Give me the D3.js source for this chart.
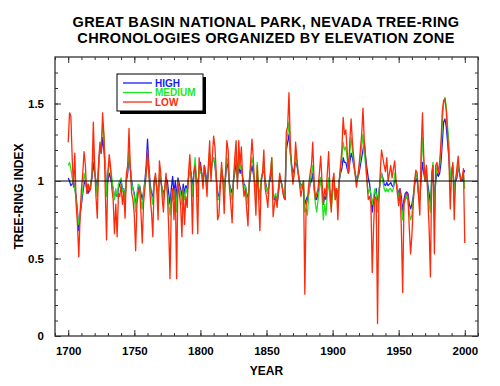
<!DOCTYPE html>
<html>
<head>
<meta charset="utf-8">
<script src="https://cdn.jsdelivr.net/npm/d3@7"></script>
<style>
  body { margin: 0; background: #fff; }
  text { font-family: "Liberation Sans", Arial, Helvetica, sans-serif; font-weight: bold; }
</style>
</head>
<body>
<div id="chart"></div>
<script>
// chronologies, one value per year from 1700 to 2000
var firstYear = 1700;

var lowZone = [
  1.25, 1.44, 1.42, 1.15, 0.96, 1.18, 0.85, 0.72, 0.51, 0.78,
  0.95, 1.05, 1.19, 1.10, 0.92, 0.98, 0.93, 0.95, 1.05, 1.38,
  1.10, 0.90, 0.76, 1.12, 1.25, 1.18, 1.44, 1.30, 0.95, 0.62,
  1.05, 1.17, 1.10, 0.95, 0.88, 0.66, 0.85, 0.64, 0.92, 0.90,
  0.98, 0.85, 0.93, 0.76, 1.05, 1.10, 1.34, 1.08, 0.92, 0.88,
  0.78, 0.55, 0.85, 0.92, 0.96, 0.80, 0.60, 0.86, 0.95, 1.05,
  1.20, 1.05, 0.90, 0.80, 0.64, 1.00, 1.05, 0.95, 0.75, 1.13,
  1.05, 0.90, 0.80, 0.95, 1.05, 0.92, 0.70, 0.37, 0.85, 0.95,
  0.75, 0.95, 0.37, 1.00, 0.92, 0.85, 0.64, 0.95, 0.72, 0.90,
  0.83, 1.05, 1.17, 1.02, 0.66, 1.05, 1.10, 0.95, 0.66, 1.15,
  1.08, 1.05, 0.95, 1.10, 1.02, 0.90, 1.10, 1.26, 1.00, 1.15,
  1.29, 1.22, 1.05, 0.75, 0.78, 0.95, 1.12, 1.00, 0.79, 1.05,
  1.26, 1.20, 0.95, 0.85, 0.73, 1.00, 1.15, 1.26, 0.95, 1.26,
  1.10, 1.22, 1.00, 0.90, 0.95, 0.82, 0.71, 1.00, 1.12, 1.27,
  1.15, 0.95, 0.78, 1.10, 0.90, 0.68, 1.00, 1.05, 1.20, 0.95,
  0.90, 0.83, 0.98, 1.05, 1.15, 0.77, 0.85, 0.90, 0.83, 0.95,
  1.05, 1.00, 0.95, 0.90, 0.88, 1.32, 1.35, 1.57, 1.25, 1.10,
  0.98, 1.05, 1.25, 1.15, 1.05, 0.98, 0.90, 0.95, 1.00, 0.27,
  0.85, 0.88, 0.98, 1.05, 1.10, 1.25, 1.00, 0.88, 0.92, 0.95,
  1.05, 1.16, 1.00, 0.85, 0.95, 0.90, 1.05, 1.19, 0.95, 0.80,
  1.00, 1.05, 0.88, 0.95, 0.75, 1.00, 1.10, 1.20, 1.41, 1.30,
  1.33, 1.20, 1.05, 1.25, 1.40, 1.25, 1.15, 1.05, 0.96, 1.02,
  1.10, 1.20, 1.30, 1.47, 1.25, 1.15, 1.00, 0.88, 0.90, 0.85,
  0.41, 0.70, 0.90, 0.88, 0.08, 0.85, 1.05, 1.20, 1.15, 1.10,
  1.06, 1.15, 1.00, 1.05, 1.10, 1.02, 1.08, 1.13, 1.00, 0.92,
  0.84, 0.95, 0.70, 0.28, 0.85, 0.90, 0.92, 0.90, 0.70, 0.53,
  0.65, 0.85, 1.00, 1.07, 1.05, 0.90, 0.78, 1.20, 1.44, 1.15,
  1.00, 1.10, 0.90, 0.70, 0.38, 1.05, 1.10, 0.53, 1.10, 1.12,
  1.05, 1.12, 1.25, 1.45, 1.52, 1.53, 1.45, 1.30, 1.15, 0.82,
  1.05, 1.12, 0.75, 1.00, 1.08, 1.16, 1.05, 1.00, 1.02, 1.08,
  0.60
];

var mediumZone = [
  1.10, 1.12, 1.08, 1.02, 0.98, 0.95, 0.88, 0.78, 0.72, 0.80,
  0.88, 0.95, 1.05, 1.00, 0.95, 0.98, 0.96, 0.97, 1.05, 1.22,
  1.08, 0.98, 0.90, 1.08, 1.20, 1.25, 1.35, 1.30, 1.10, 0.90,
  1.05, 1.12, 1.08, 1.02, 0.95, 0.88, 0.95, 0.90, 0.98, 1.00,
  1.02, 0.93, 0.95, 0.88, 1.02, 1.08, 1.20, 1.08, 0.98, 0.95,
  0.90, 0.80, 0.92, 0.98, 0.97, 0.88, 0.82, 0.93, 0.98, 1.05,
  1.15, 1.05, 0.95, 0.90, 0.85, 1.00, 1.02, 0.95, 0.88, 1.05,
  1.02, 0.95, 0.88, 0.95, 1.00, 0.93, 0.85, 0.78, 0.90, 0.95,
  0.88, 0.95, 0.80, 1.00, 0.95, 0.92, 0.85, 0.95, 0.88, 0.95,
  0.92, 1.02, 1.10, 1.02, 0.90, 1.05, 1.15, 1.00, 0.90, 1.10,
  1.05, 1.05, 0.98, 1.08, 1.02, 0.95, 1.08, 1.18, 1.05, 1.12,
  1.15, 1.12, 1.02, 0.88, 0.88, 0.98, 1.08, 1.02, 0.92, 1.05,
  1.15, 1.12, 0.98, 0.92, 0.88, 1.00, 1.10, 1.18, 1.00, 1.15,
  1.08, 1.10, 1.02, 0.95, 0.97, 0.90, 0.85, 1.00, 1.08, 1.15,
  1.10, 0.98, 0.90, 1.12, 0.95, 0.88, 1.02, 1.05, 1.12, 0.98,
  0.95, 0.92, 1.00, 1.05, 1.15, 0.88, 0.90, 0.92, 0.85, 0.95,
  1.02, 1.00, 0.96, 0.92, 0.90, 1.25, 1.30, 1.38, 1.20, 1.08,
  1.00, 1.05, 1.18, 1.12, 1.05, 1.00, 0.95, 0.98, 1.00, 0.80,
  0.82, 0.78, 0.92, 1.00, 1.05, 1.10, 0.95, 0.85, 0.80, 0.88,
  0.95, 1.02, 0.90, 0.75, 0.85, 0.78, 0.92, 1.02, 0.88, 0.82,
  0.92, 1.00, 0.88, 0.95, 0.85, 1.00, 1.08, 1.15, 1.25, 1.20,
  1.22, 1.15, 1.05, 1.18, 1.28, 1.20, 1.12, 1.05, 1.00, 1.02,
  1.08, 1.15, 1.22, 1.30, 1.18, 1.10, 1.00, 0.92, 0.95, 0.92,
  0.85, 0.90, 0.95, 0.92, 0.80, 0.92, 1.00, 1.05, 1.00, 0.95,
  0.93, 0.95, 0.93, 0.95, 0.95, 0.93, 0.95, 1.05, 1.00, 0.95,
  0.90, 0.92, 0.85, 0.75, 0.85, 0.88, 0.90, 0.88, 0.80, 0.75,
  0.78, 0.88, 0.98, 1.05, 1.02, 0.92, 0.88, 1.12, 1.28, 1.10,
  1.00, 1.08, 0.95, 0.85, 0.80, 1.05, 1.12, 0.75, 1.02, 1.10,
  1.05, 1.10, 1.20, 1.38, 1.50, 1.54, 1.48, 1.35, 1.25, 1.00,
  1.08, 1.10, 0.88, 1.02, 1.05, 1.12, 1.05, 1.00, 1.02, 1.05,
  0.95
];

var highZone = [
  1.02, 1.00, 0.97, 0.98, 1.00, 0.95, 0.90, 0.80, 0.68, 0.78,
  0.85, 0.92, 0.98, 1.00, 0.95, 0.92, 0.95, 0.98, 1.02, 1.12,
  1.05, 1.00, 0.95, 1.10, 1.22, 1.18, 1.28, 1.20, 1.10, 0.95,
  1.00, 1.05, 1.02, 0.98, 0.95, 0.90, 0.92, 0.90, 0.95, 0.98,
  1.00, 0.95, 0.95, 0.90, 1.00, 1.05, 1.15, 1.08, 1.00, 0.95,
  0.92, 0.85, 0.90, 0.95, 0.97, 0.92, 0.88, 0.93, 1.00, 1.10,
  1.27, 1.10, 0.98, 0.92, 0.90, 0.98, 1.02, 0.96, 0.90, 1.02,
  1.00, 0.95, 0.92, 0.95, 1.02, 1.00, 0.92, 0.85, 0.95, 1.03,
  0.92, 1.00, 0.88, 1.02, 0.98, 0.95, 0.90, 0.98, 0.92, 0.97,
  0.95, 1.02, 1.08, 1.05, 0.95, 1.05, 1.10, 1.02, 0.95, 1.08,
  1.12, 1.05, 1.00, 1.10, 1.05, 0.98, 1.05, 1.15, 1.08, 1.12,
  1.15, 1.10, 1.02, 0.92, 0.90, 0.98, 1.05, 1.02, 0.95, 1.02,
  1.12, 1.08, 0.98, 0.95, 0.92, 1.00, 1.05, 1.12, 1.02, 1.10,
  1.05, 1.08, 1.02, 0.98, 0.97, 0.92, 0.88, 0.98, 1.05, 1.10,
  1.05, 1.00, 0.92, 1.05, 0.95, 0.90, 1.00, 1.05, 1.08, 1.00,
  0.96, 0.92, 0.98, 1.02, 1.10, 0.92, 0.88, 0.90, 0.85, 0.92,
  1.00, 1.00, 0.96, 0.90, 0.88, 1.20, 1.25, 1.30, 1.18, 1.10,
  1.05, 1.08, 1.12, 1.10, 1.05, 1.00, 0.97, 0.98, 0.95, 0.85,
  0.88, 0.90, 0.92, 0.98, 1.00, 1.05, 0.95, 0.90, 0.88, 0.92,
  0.98, 1.02, 0.95, 0.85, 0.90, 0.88, 0.95, 1.00, 0.92, 0.88,
  0.95, 1.00, 0.92, 0.95, 0.90, 1.00, 1.05, 1.08, 1.15, 1.12,
  1.12, 1.08, 1.05, 1.12, 1.18, 1.15, 1.10, 1.05, 1.02, 1.02,
  1.05, 1.10, 1.15, 1.20, 1.25, 1.15, 1.08, 1.02, 0.98, 0.90,
  0.80, 0.88, 0.92, 0.95, 0.85, 0.92, 1.00, 1.05, 1.02, 0.98,
  0.97, 0.99, 0.97, 0.98, 0.99, 0.97, 0.96, 1.00, 1.00, 0.95,
  0.92, 0.95, 0.90, 0.80, 0.88, 0.92, 0.93, 0.92, 0.85, 0.82,
  0.85, 0.90, 0.97, 1.02, 1.00, 0.92, 0.88, 1.02, 1.12, 1.05,
  1.00, 1.05, 0.98, 0.92, 0.85, 1.00, 1.05, 0.88, 1.00, 1.05,
  1.03, 1.05, 1.12, 1.25, 1.38, 1.40, 1.35, 1.25, 1.15, 1.00,
  1.05, 1.08, 0.95, 1.00, 1.02, 1.10, 1.05, 1.02, 1.00, 1.05,
  1.07
];

var seriesNames = ["HIGH", "MEDIUM", "LOW"];
var seriesColors = ["#1a1aff", "#1ee61e", "#ff2a0a"];
var seriesValues = [highZone, mediumZone, lowZone];

var xDomain = [1690, 2010];
var yDomain = [0, 1.8];
var xMajorTicks = [1700, 1750, 1800, 1850, 1900, 1950, 2000];
var yMajorTicks = [0, 0.5, 1, 1.5];

var titleLines = ["GREAT BASIN NATIONAL PARK, NEVADA TREE-RING",
                  "CHRONOLOGIES ORGANIZED BY ELEVATION ZONE"];

// drawing area
var margin = { top: 57, right: 22, bottom: 50, left: 55 };
var outerWidth = 500, outerHeight = 386;
var width = outerWidth - margin.left - margin.right,
    height = outerHeight - margin.top - margin.bottom;

var svg = d3.select("#chart").append("svg")
    .attr("width", outerWidth)
    .attr("height", outerHeight);

var g = svg.append("g")
    .attr("transform", "translate(" + margin.left + "," + margin.top + ")");

// scales
var x = d3.scaleLinear().domain(xDomain).range([0, width]);
var y = d3.scaleLinear().domain(yDomain).range([height, 0]);

// title
svg.selectAll("text.title")
    .data(titleLines)
    .enter().append("text")
    .attr("class", "title")
    .attr("x", 266)
    .attr("y", function(d, i){ return 26.5 + i * 16.3; })
    .attr("text-anchor", "middle")
    .attr("font-size", "14.5px")
    .attr("letter-spacing", "0.35px")
    .text(function(d){ return d; });

// series lines
var line = d3.line()
    .x(function(d, i){ return x(firstYear + i); })
    .y(function(d){ return y(d); });

g.append("clipPath").attr("id", "plotClip")
    .append("rect").attr("width", width).attr("height", height);

var lines = g.append("g").attr("clip-path", "url(#plotClip)");

lines.selectAll("path.series")
    .data(seriesValues)
    .enter().append("path")
    .attr("class", "series")
    .attr("fill", "none")
    .attr("stroke", function(d, i){ return seriesColors[i]; })
    .attr("stroke-width", 1.3)
    .attr("stroke-linejoin", "round")
    .attr("d", line);

// reference line at index 1
g.append("line")
    .attr("x1", 0).attr("x2", width)
    .attr("y1", y(1)).attr("y2", y(1))
    .attr("stroke", "#000")
    .attr("stroke-width", 1.2);

// axes, ticks pointing inward on all four sides
function styleAxis(sel){
    sel.select(".domain").remove();
    sel.selectAll(".tick line").attr("stroke", "#333").attr("stroke-width", 1);
    sel.selectAll(".tick text").attr("fill", "#000").attr("font-size", "11.5px")
        .attr("font-family", "'Liberation Sans', Arial, sans-serif").attr("font-weight", "bold");
}

var xMinor = d3.range(xDomain[0], xDomain[1] + 1, 10);
var yMinor = d3.range(0, 18).map(function(d){ return d / 10; });

g.append("g").attr("transform", "translate(0," + height + ")")
    .call(d3.axisBottom(x).tickValues(xMinor).tickSize(-3).tickFormat(""))
    .call(styleAxis);
g.append("g").attr("transform", "translate(0," + height + ")")
    .call(d3.axisBottom(x).tickValues(xMajorTicks).tickSize(-6).tickPadding(11).tickFormat(d3.format("d")))
    .call(styleAxis);
g.append("g")
    .call(d3.axisTop(x).tickValues(xMinor).tickSize(-3).tickFormat(""))
    .call(styleAxis);
g.append("g")
    .call(d3.axisTop(x).tickValues(xMajorTicks).tickSize(-6).tickFormat(""))
    .call(styleAxis);

g.append("g")
    .call(d3.axisLeft(y).tickValues(yMinor).tickSize(-3).tickFormat(""))
    .call(styleAxis);
g.append("g")
    .call(d3.axisLeft(y).tickValues(yMajorTicks).tickSize(-6).tickPadding(11)
        .tickFormat(function(d){ return d === 0 ? "0" : d3.format("~g")(d); }))
    .call(styleAxis);
g.append("g").attr("transform", "translate(" + width + ",0)")
    .call(d3.axisRight(y).tickValues(yMinor).tickSize(-3).tickFormat(""))
    .call(styleAxis);
g.append("g").attr("transform", "translate(" + width + ",0)")
    .call(d3.axisRight(y).tickValues(yMajorTicks).tickSize(-6).tickFormat(""))
    .call(styleAxis);

// frame
g.append("rect")
    .attr("width", width).attr("height", height)
    .attr("fill", "none")
    .attr("stroke", "#333")
    .attr("stroke-width", 1.3);

// axis titles
svg.append("text")
    .attr("x", margin.left + x(1850))
    .attr("y", 375)
    .attr("text-anchor", "middle")
    .attr("font-size", "12px")
    .text("YEAR");

svg.append("text")
    .attr("transform", "translate(23," + (margin.top + y(0.9)) + ") rotate(-90)")
    .attr("text-anchor", "middle")
    .attr("font-size", "12px")
    .text("TREE-RING INDEX");

// legend with drop shadow
var legend = svg.append("g").attr("transform", "translate(117,74)");
legend.append("rect")
    .attr("x", 3).attr("y", 3)
    .attr("width", 86).attr("height", 37)
    .attr("fill", "#000");
legend.append("rect")
    .attr("width", 86).attr("height", 37)
    .attr("fill", "#fff")
    .attr("stroke", "#000")
    .attr("stroke-width", 1);

var items = legend.selectAll("g.item")
    .data(seriesNames)
    .enter().append("g")
    .attr("class", "item")
    .attr("transform", function(d, i){ return "translate(0," + (9 + i * 9.5) + ")"; });

items.append("line")
    .attr("x1", 6).attr("x2", 35)
    .attr("stroke", function(d, i){ return seriesColors[i]; })
    .attr("stroke-width", 1.3);

items.append("text")
    .attr("x", 38)
    .attr("y", 3.5)
    .attr("font-size", "10px")
    .attr("fill", function(d, i){ return seriesColors[i]; })
    .text(function(d){ return d; });
</script>
</body>
</html>
